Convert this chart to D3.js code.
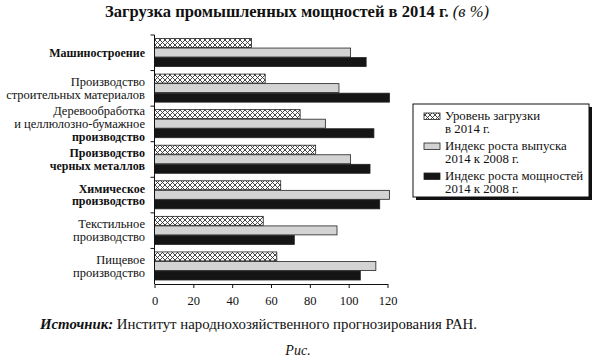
<!DOCTYPE html>
<html><head><meta charset="utf-8">
<script src="https://cdn.jsdelivr.net/npm/d3@7"></script>
<style>body{margin:0;background:#fff}svg{display:block}</style>
</head><body><svg id="c" width="595" height="359"></svg>
<script>
const categories = ["Машиностроение","Производство строительных материалов","Деревообработка и целлюлозно-бумажное производство","Производство черных металлов","Химическое производство","Текстильное производство","Пищевое производство"];
const labelLines = [
  [["Машиностроение",true]],
  [["Производство",false],["строительных материалов",false]],
  [["Деревообработка",false],["и целлюлозно-бумажное",false],["производство",true]],
  [["Производство",true],["черных металлов",true]],
  [["Химическое",true],["производство",true]],
  [["Текстильное",false],["производство",false]],
  [["Пищевое",false],["производство",false]]
];
const loadLevel = [50,57,75,83,65,56,63];
const outputIndex = [101,95,88,101,121,94,114];
const capacityIndex = [109,121,113,111,116,72,106];
const seriesNames = [["Уровень загрузки","в 2014 г."],["Индекс роста выпуска","2014 к 2008 г."],["Индекс роста мощностей","2014 к 2008 г."]];
const xTicks = [0,20,40,60,80,100,120];

const FONT = "Liberation Serif";
const svg = d3.select("#c");
const defs = svg.append("defs");
const pat = defs.append("pattern").attr("id","hatch").attr("patternUnits","userSpaceOnUse").attr("width",5).attr("height",5);
pat.append("rect").attr("width",5).attr("height",5).attr("fill","#fff");
pat.append("path").attr("d","M0,0L5,5M5,0L0,5").attr("stroke","#333").attr("stroke-width",0.9);

const x = d3.scaleLinear().domain([0,120]).range([154.5,387.5]);
const y = d3.scaleBand().domain(categories).range([35,284]).paddingInner(0).paddingOuter(0);
const inner = d3.scaleBand().domain([0,1,2]).range([3.5, y.bandwidth()-4]).paddingInner(0.06);

function txt(sel){ return sel.attr("font-family",FONT).attr("fill","#111"); }

// title
const t = txt(svg.append("text")).attr("x",105).attr("y",17).attr("font-size","16.5px")
  .attr("textLength",384).attr("lengthAdjust","spacingAndGlyphs");
t.append("tspan").attr("font-weight","bold").text("Загрузка промышленных мощностей в 2014 г. ");
t.append("tspan").attr("font-style","italic").text("(в %)");

const series = [loadLevel, outputIndex, capacityIndex];
const fills = ["url(#hatch)","#d3d3d3","#151515"];
series.forEach((vals,si)=>{
  svg.append("g").selectAll("rect").data(vals).join("rect")
    .attr("x",x(0))
    .attr("y",(d,i)=>y(categories[i])+inner(si))
    .attr("width",d=>x(d)-x(0))
    .attr("height",inner.bandwidth())
    .attr("fill",fills[si])
    .attr("stroke","#222").attr("stroke-width",0.8);
});

// y axis
const gy = svg.append("g");
gy.append("line").attr("x1",x(0)).attr("x2",x(0)).attr("y1",35).attr("y2",284).attr("stroke","#111").attr("stroke-width",1);
categories.forEach(c=>{
  gy.append("line").attr("x1",x(0)-4).attr("x2",x(0)).attr("y1",y(c)).attr("y2",y(c)).attr("stroke","#111");
});
// labels
categories.forEach((c,i)=>{
  const lines = labelLines[i];
  const cy = y(c)+y.bandwidth()/2;
  const lh = 12.8;
  const start = cy - (lines.length-1)*lh/2 + 4;
  lines.forEach((ln,j)=>{
    txt(svg.append("text")).attr("x",145).attr("y",start+j*lh).attr("text-anchor","end")
      .attr("font-size",ln[1]?"12px":"12.5px").attr("font-weight",ln[1]?"bold":"normal").text(ln[0]);
  });
});

// x axis
const gx = svg.append("g").attr("transform","translate(0,284)")
  .call(d3.axisBottom(x).tickValues(xTicks).tickSize(4).tickSizeOuter(0).tickFormat(d3.format("d")));
gx.attr("font-family",FONT);
gx.select(".domain").attr("stroke","#111");
gx.selectAll(".tick line").attr("stroke","#111");
gx.selectAll(".tick text").attr("y",12).attr("font-size","12.5px").attr("font-family",FONT).attr("fill","#111");

// legend
const lg = svg.append("g");
lg.append("rect").attr("x",416).attr("y",107).attr("width",176).attr("height",93).attr("fill","#111");
lg.append("rect").attr("x",413).attr("y",104).attr("width",176).attr("height",93).attr("fill","#fff").attr("stroke","#111").attr("stroke-width",1);
const rowsY = [113,143,173];
seriesNames.forEach((nm,i)=>{
  lg.append("rect").attr("x",424).attr("y",rowsY[i]).attr("width",16).attr("height",6.5)
    .attr("fill",fills[i]).attr("stroke","#222").attr("stroke-width",0.8);
  nm.forEach((s,j)=>{
    txt(lg.append("text")).attr("x",445).attr("y",rowsY[i]+7+j*13).attr("font-size","12.8px").text(s);
  });
});

// source
const s = txt(svg.append("text")).attr("x",40).attr("y",329).attr("font-size","14px")
  .attr("textLength",437).attr("lengthAdjust","spacingAndGlyphs");
s.append("tspan").attr("font-weight","bold").attr("font-style","italic").text("Источник: ");
s.append("tspan").text("Институт народнохозяйственного прогнозирования РАН.");
txt(svg.append("text")).attr("x",298).attr("y",355).attr("text-anchor","middle").attr("font-size","14px").attr("font-style","italic").text("Рис.");
</script></body></html>
